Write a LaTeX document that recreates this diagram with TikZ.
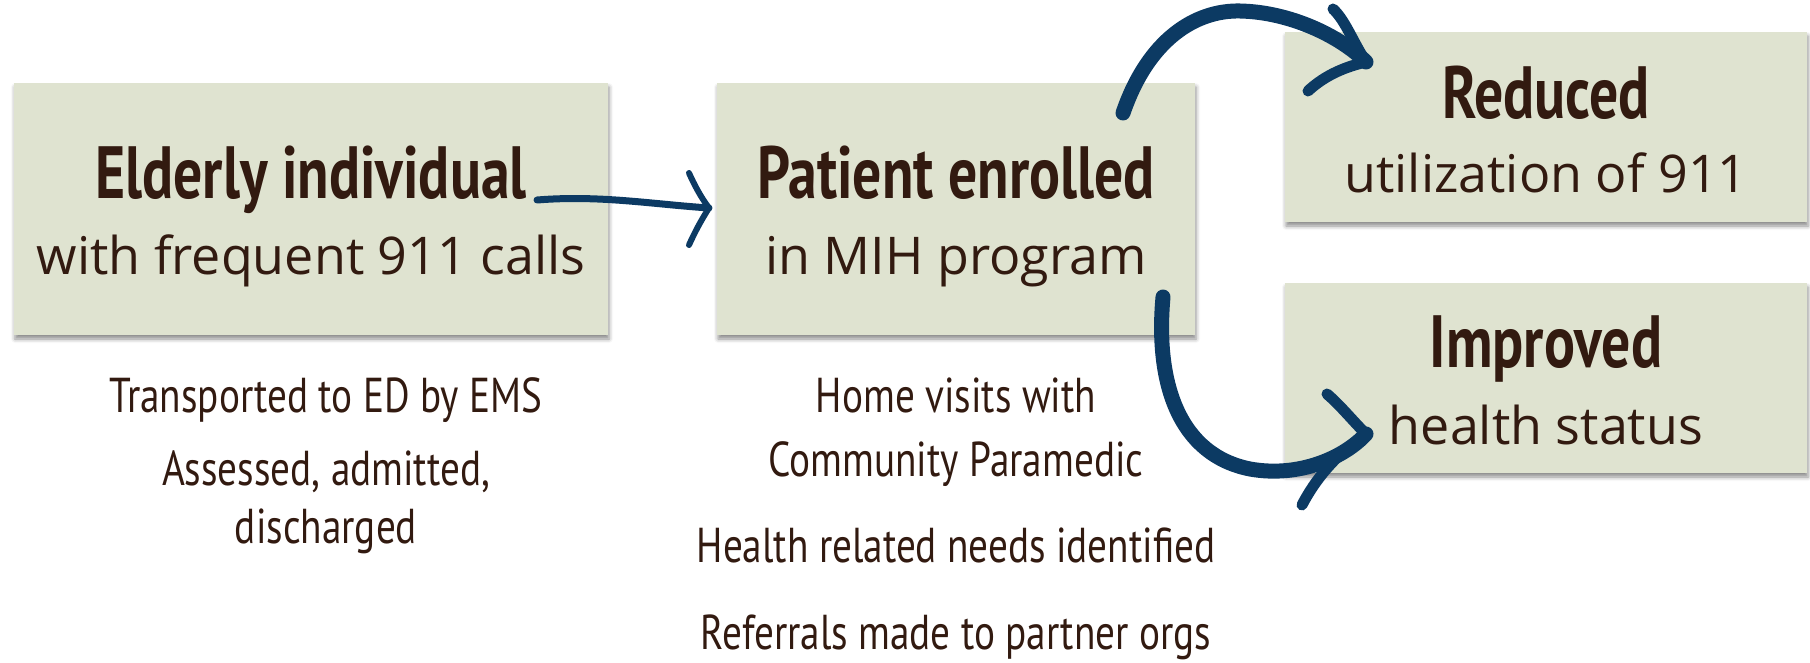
\documentclass[tikz,border=0pt]{standalone}
\usepackage{fontspec}
\setmainfont{Open Sans}
\newfontfamily\headfont[FakeStretch=0.78]{PT Sans}
\newfontfamily\notefont[FakeStretch=0.80]{PT Sans}
\usetikzlibrary{shadows.blur}
\definecolor{boxfill}{RGB}{223,227,208}
\definecolor{ink}{RGB}{50,26,16}
\definecolor{navy}{RGB}{12,58,99}
\begin{document}
\begin{tikzpicture}[x=1pt,y=-1pt,
  box/.style={fill=boxfill, draw=none, inner sep=0pt,
    blur shadow={shadow xshift=1pt, shadow yshift=-4pt, shadow blur radius=4pt, shadow opacity=45}},
  head/.style={anchor=base, text=ink, inner sep=0pt, font=\headfont\bfseries\fontsize{74}{80}\selectfont},
  body/.style={anchor=base, text=ink, inner sep=0pt, font=\fontsize{52}{60}\selectfont},
  note/.style={anchor=base, text=ink, inner sep=0pt, font=\notefont\fontsize{49}{56}\selectfont},
  shaft/.style={draw=navy, line width=15pt, line cap=round},
  thin shaft/.style={draw=navy, line width=7pt, line cap=round},
  barb/.style={draw=navy, line width=11pt, line cap=round},
  thin barb/.style={draw=navy, line width=6pt, line cap=round}]
\useasboundingbox (0,0) rectangle (1810,663);

% boxes
\node[box, minimum width=594pt, minimum height=252pt] (b1) at (311,209) {};
\node[box, minimum width=478pt, minimum height=252pt] (b2) at (956,209) {};
\node[box, minimum width=522pt, minimum height=190pt] (b3) at (1546,127) {};
\node[box, minimum width=522pt, minimum height=190pt] (b4) at (1546,378) {};

% box captions
\node[head] (h1) at (311,199) {Elderly individual};
\node[body] (t1) at (311,274) {with frequent 911 calls};
\node[head] (h2) at (956,199) {Patient enrolled};
\node[body] (t2) at (956,274) {in MIH program};
\node[head] (h3) at (1546,119) {Reduced};
\node[body] (t3) at (1546,193) {utilization of 911};
\node[head] (h4) at (1546,367) {Improved};
\node[body] (t4) at (1546,444) {health status};

% notes under the boxes
\node[note] (n1) at (326,412) {Transported to ED by EMS};
\node[note] (n2) at (326,485) {Assessed, admitted,};
\node[note] (n3) at (326,543) {discharged};
\node[note] (m1) at (956,412) {Home visits with};
\node[note] (m2) at (956,476) {Community Paramedic};
\node[note] (m3) at (956,562) {Health related needs identified};
\node[note] (m4) at (956,649) {Referrals made to partner orgs};

% arrow end points
\coordinate (a1s) at (537,200);
\coordinate (a1t) at (709,208);
\coordinate (a1u) at (689,173);
\coordinate (a1d) at (689,245);
\coordinate (a2s) at (1123,113);
\coordinate (a2t) at (1366,62);
\coordinate (a2u) at (1333,9);
\coordinate (a2d) at (1308,91);
\coordinate (a3s) at (1163,297);
\coordinate (a3t) at (1366,434);
\coordinate (a3u) at (1327,394);
\coordinate (a3d) at (1302,505);

% Elderly individual -> Patient enrolled
\draw[thin shaft] (a1s) .. controls (600,195) and (650,204) .. (a1t);
\draw[thin barb] (a1t) .. controls (700,196) and (694,184) .. (a1u);
\draw[thin barb] (a1t) .. controls (700,222) and (694,234) .. (a1d);

% Patient enrolled -> Reduced
\draw[shaft] (a2s) .. controls (1148,40) and (1195,10) .. (1240,11)
  .. controls (1290,12) and (1340,36) .. (a2t);
\draw[barb] (a2t) .. controls (1352,40) and (1345,20) .. (a2u);
\draw[barb] (a2t) .. controls (1340,68) and (1322,78) .. (a2d);

% Patient enrolled -> Improved
\draw[shaft] (a3s) .. controls (1155,385) and (1180,455) .. (1250,469)
  .. controls (1300,478) and (1345,457) .. (a3t);
\draw[barb] (a3t) .. controls (1352,420) and (1340,405) .. (a3u);
\draw[barb] (a3t) .. controls (1335,455) and (1315,480) .. (a3d);
\end{tikzpicture}
\end{document}
